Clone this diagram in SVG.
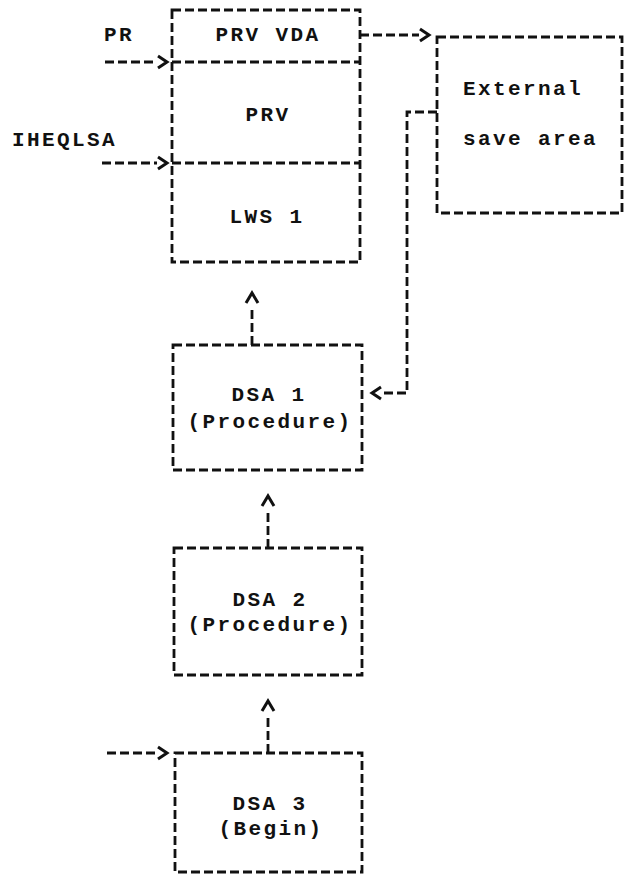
<svg xmlns="http://www.w3.org/2000/svg" width="627" height="882" viewBox="0 0 627 882">
<style>
.box{fill:none;stroke:#111;stroke-width:2.8;stroke-dasharray:9 4}
.ln{fill:none;stroke:#111;stroke-width:2.8;stroke-dasharray:9 4}
.t{font-family:"Liberation Mono","DejaVu Sans Mono",monospace;font-weight:bold;font-size:21px;letter-spacing:2.4px;fill:#111}
.m{text-anchor:middle}
</style>
<defs>
<marker id="chev" markerUnits="userSpaceOnUse" markerWidth="30" markerHeight="30" viewBox="-15 -15 30 30" refX="0" refY="0" orient="auto">
<path d="M1,-6 L10,0 L1,6" fill="none" stroke="#111" stroke-width="3"/>
</marker>
<marker id="chevUp" markerUnits="userSpaceOnUse" markerWidth="40" markerHeight="40" viewBox="-20 -20 40 40" refX="0" refY="0" orient="auto">
<path d="M4,-6 L14,0 L4,6" fill="none" stroke="#111" stroke-width="3"/>
</marker>
</defs>
<rect width="627" height="882" fill="#fff"/>
<g id="connectors">
<path class="ln" d="M105,62 H157" marker-end="url(#chev)"/>
<path class="ln" d="M102,163 H157" marker-end="url(#chev)"/>
<path class="ln" d="M360,35 H419" marker-end="url(#chev)"/>
<path class="ln" d="M437,112 H407 V393 H382" marker-end="url(#chev)"/>
<path class="ln" d="M252,345 V307" marker-end="url(#chevUp)"/>
<path class="ln" d="M268,548 V510" marker-end="url(#chevUp)"/>
<path class="ln" d="M268,753 V715" marker-end="url(#chevUp)"/>
<path class="ln" d="M107,753 H157" marker-end="url(#chev)"/>
</g>
<g id="labels">
<text class="t" x="104" y="41">PR</text>
<text class="t" x="12" y="146">IHEQLSA</text>
</g>
<g id="node-prv">
<rect class="box" x="172" y="10" width="188" height="252"/>
<line class="box" x1="172" y1="62" x2="360" y2="62"/>
<line class="box" x1="172" y1="163" x2="360" y2="163"/>
<text class="t m" x="268" y="41">PRV VDA</text>
<text class="t m" x="268" y="121">PRV</text>
<text class="t m" x="267" y="223">LWS 1</text>
</g>
<g id="node-external">
<rect class="box" x="437" y="37" width="185" height="176"/>
<text class="t" x="463" y="95">External</text>
<text class="t" x="463" y="145">save area</text>
</g>
<g id="node-dsa1">
<rect class="box" x="173" y="345" width="189" height="125"/>
<text class="t m" x="269" y="401">DSA 1</text>
<text class="t m" x="270" y="428">(Procedure)</text>
</g>
<g id="node-dsa2">
<rect class="box" x="174" y="548" width="188" height="127"/>
<text class="t m" x="270" y="606">DSA 2</text>
<text class="t m" x="270" y="631">(Procedure)</text>
</g>
<g id="node-dsa3">
<rect class="box" x="175" y="753" width="187" height="119"/>
<text class="t m" x="270" y="810">DSA 3</text>
<text class="t m" x="271" y="835">(Begin)</text>
</g>
</svg>
